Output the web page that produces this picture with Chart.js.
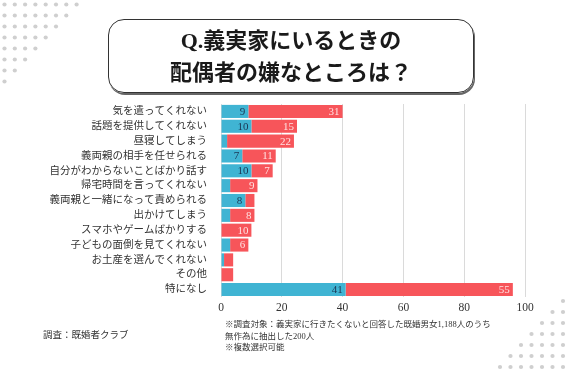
<!DOCTYPE html>
<html lang="ja">
<head>
<meta charset="utf-8">
<script src="https://cdn.jsdelivr.net/npm/chart.js@4"></script>
<style>
  body { margin: 0; width: 568px; height: 370px; background: #fff; overflow: hidden; position: relative;
         font-family: 'Liberation Serif', 'Noto Sans CJK JP', serif; color: #222; }
  #wrap { position: absolute; left: 0; top: 0; width: 568px; height: 370px; }
  .titlebox { position: absolute; left: 108px; top: 19px; width: 364px; height: 67px;
              border: 1.5px solid #333; border-radius: 16px; box-shadow: 1px 2px 0 #666;
              text-align: center; font-size: 22px; font-weight: bold; line-height: 32px;
              padding-top: 5px; box-sizing: content-box; color: #1a1a1a; }
  .source { position: absolute; left: 43px; top: 327px; font-size: 9.5px; color: #333; }
  .notes { position: absolute; left: 225px; top: 319px; font-size: 8.5px; line-height: 11.7px; color: #333; }
  svg { position: absolute; left: 0; top: 0; }
</style>
</head>
<body>
<svg id="dots" width="568" height="370"></svg>
<div id="wrap"><canvas id="grafico" width="568" height="370"></canvas></div>
<div class="titlebox">Q.義実家にいるときの<br>配偶者の嫌なところは？</div>
<div class="source">調査：既婚者クラブ</div>
<div class="notes">※調査対象：義実家に行きたくないと回答した既婚男女1,188人のうち<br>無作為に抽出した200人<br>※複数選択可能</div>

<script>
// -------------------------------------------------------
// DADOS
// -------------------------------------------------------
const categorias = [
  '気を遣ってくれない', '話題を提供してくれない', '昼寝してしまう', '義両親の相手を任せられる',
  '自分がわからないことばかり話す', '帰宅時間を言ってくれない', '義両親と一緒になって責められる',
  '出かけてしまう', 'スマホやゲームばかりする', '子どもの面倒を見てくれない',
  'お土産を選んでくれない', 'その他', '特になし'
];
const serieAzul = [9, 10, 2, 7, 10, 3, 8, 3, 0, 3, 1, 0, 41];
const serieVermelha = [31, 15, 22, 11, 7, 9, 3, 8, 10, 6, 3, 4, 55];
const ticksX = [0, 20, 40, 60, 80, 100];

// -------------------------------------------------------
// Pontinhos decorativos (cantos)
// -------------------------------------------------------
const svg = document.getElementById('dots');
let pontos = '';
for (let r = 0; r < 8; r++) {
  for (let c = 0; c < 8 - r; c++) {
    pontos += `<circle cx="${4.5 + c * 10.3}" cy="${4.5 + r * 11}" r="2.1" fill="#cfcfcf"/>`;
  }
}
for (let r = 0; r < 7; r++) {
  for (let c = 0; c <= r; c++) {
    pontos += `<circle cx="${563 - c * 10.5}" cy="${301 + r * 11}" r="2.1" fill="#cfcfcf"/>`;
  }
}
svg.innerHTML = pontos;

// -------------------------------------------------------
// Rótulos dentro das barras
// -------------------------------------------------------
const rotulos = {
  id: 'rotulos',
  afterDatasetsDraw(chart) {
    const ctx = chart.ctx;
    ctx.save();
    ctx.font = "11px 'Liberation Serif', 'Noto Sans CJK JP', serif";
    ctx.textAlign = 'right';
    ctx.textBaseline = 'middle';
    chart.data.datasets.forEach((ds, i) => {
      chart.getDatasetMeta(i).data.forEach((bar, j) => {
        const v = ds.data[j];
        if (v < 5) return;
        ctx.fillStyle = i === 0 ? '#1b3553' : '#ffe1e1';
        ctx.fillText(String(v), bar.x - 3, bar.y + 0.5);
      });
    });
    ctx.restore();
  }
};

const fonteBase = "'Liberation Serif', 'Noto Sans CJK JP', serif";

new Chart(document.getElementById('grafico'), {
  type: 'bar',
  data: {
    labels: categorias,
    datasets: [
      { data: serieAzul, backgroundColor: '#40b4d3', categoryPercentage: 0.9, barPercentage: 0.98 },
      { data: serieVermelha, backgroundColor: '#f7555a', categoryPercentage: 0.9, barPercentage: 0.98 }
    ]
  },
  options: {
    indexAxis: 'y',
    responsive: false,
    animation: false,
    layout: { padding: { left: 0, top: 104, right: 43, bottom: 53 } },
    plugins: { legend: { display: false }, tooltip: { enabled: false } },
    scales: {
      x: {
        stacked: true,
        min: 0,
        max: 100,
        afterBuildTicks: s => { s.ticks = ticksX.map(v => ({ value: v })); },
        afterFit: s => { s.height = 20; },
        border: { display: false },
        grid: { color: '#dadada', drawTicks: false, lineWidth: 1 },
        ticks: { padding: 4, color: '#333', font: { family: fonteBase, size: 11.5 } }
      },
      y: {
        stacked: true,
        afterFit: s => { s.width = 221; },
        border: { display: false },
        grid: { display: false, drawTicks: false },
        ticks: { autoSkip: false, padding: 14, color: '#333', font: { family: fonteBase, size: 10.5 } }
      }
    }
  },
  plugins: [rotulos]
});
</script>
</body>
</html>
